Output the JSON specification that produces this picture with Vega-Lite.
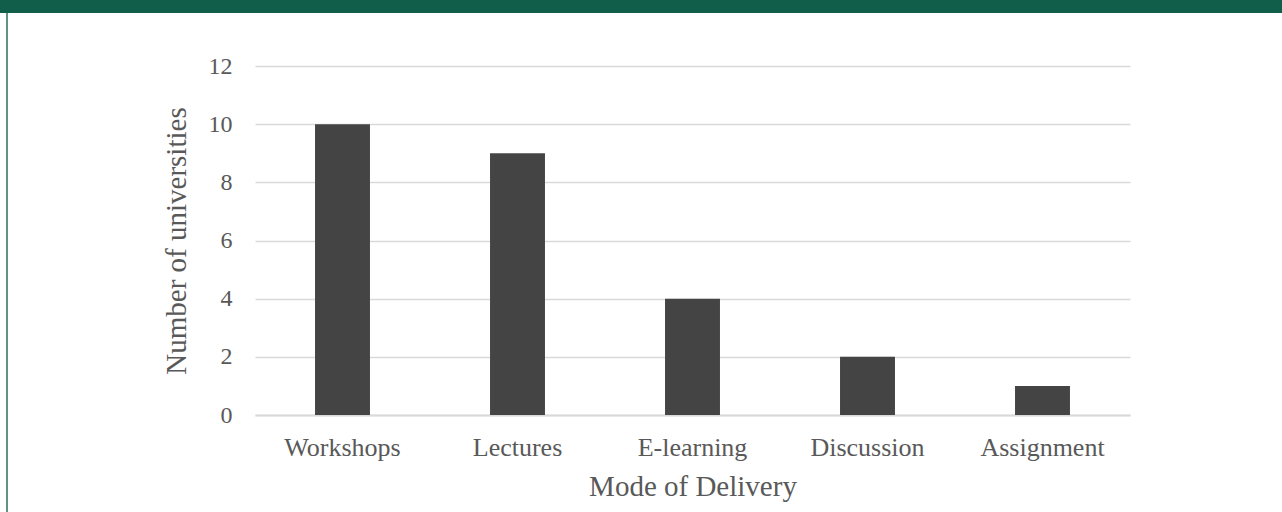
{
  "$schema": "https://vega.github.io/schema/vega-lite/v6.json",
  "padding": 0,
  "background": "white",
  "spacing": 0,
  "config": {
    "view": {"stroke": null},
    "font": "Liberation Serif"
  },
  "vconcat": [
    {
      "width": 1282,
      "height": 13,
      "data": {"values": []},
      "mark": "rect",
      "view": {"fill": "#115e4a", "stroke": null}
    },
    {
      "spacing": 0,
      "hconcat": [
        {
          "width": 6,
          "height": 499,
          "data": {"values": []},
          "mark": "rect",
          "view": {"fill": "white", "stroke": null}
        },
        {
          "width": 2,
          "height": 499,
          "data": {"values": []},
          "mark": "rect",
          "view": {"fill": "#5f9484", "stroke": null}
        },
        {
          "width": 154,
          "height": 10,
          "data": {"values": []},
          "mark": "rect",
          "view": {"fill": "white", "stroke": null}
        },
        {
          "spacing": 0,
          "vconcat": [
            {
              "width": 10,
              "height": 41,
              "data": {"values": []},
              "mark": "rect",
              "view": {"fill": "white", "stroke": null}
            },
            {
              "width": 875,
              "height": 349,
              "data": {
                "values": [
                  {"mode": "Workshops", "count": 10},
                  {"mode": "Lectures", "count": 9},
                  {"mode": "E-learning", "count": 4},
                  {"mode": "Discussion", "count": 2},
                  {"mode": "Assignment", "count": 1}
                ]
              },
              "mark": {"type": "bar", "color": "#444444"},
              "encoding": {
                "x": {
                  "field": "mode",
                  "type": "nominal",
                  "sort": null,
                  "title": "Mode of Delivery",
                  "scale": {"paddingInner": 0.686, "paddingOuter": 0.343},
                  "axis": {
                    "labelAngle": 0,
                    "labelFont": "Liberation Serif",
                    "labelFontSize": 26,
                    "labelColor": "#595959",
                    "labelPadding": 19,
                    "ticks": false,
                    "tickSize": 0,
                    "domain": true,
                    "domainColor": "#d9d9d9",
                    "domainWidth": 2,
                    "titleFont": "Liberation Serif",
                    "titleFontSize": 29,
                    "titleFontWeight": "normal",
                    "titleColor": "#595959",
                    "titlePadding": 12
                  }
                },
                "y": {
                  "field": "count",
                  "type": "quantitative",
                  "title": "Number of universities",
                  "scale": {"domain": [0, 12], "nice": false},
                  "axis": {
                    "values": [0, 2, 4, 6, 8, 10, 12],
                    "labelFont": "Liberation Serif",
                    "labelFontSize": 24,
                    "labelColor": "#595959",
                    "labelPadding": 23,
                    "ticks": false,
                    "tickSize": 0,
                    "domain": false,
                    "grid": true,
                    "gridColor": "#d9d9d9",
                    "gridWidth": 1.5,
                    "titleFont": "Liberation Serif",
                    "titleFontSize": 29,
                    "titleFontWeight": "normal",
                    "titleColor": "#595959",
                    "titlePadding": 17
                  }
                }
              }
            }
          ]
        }
      ]
    }
  ]
}
